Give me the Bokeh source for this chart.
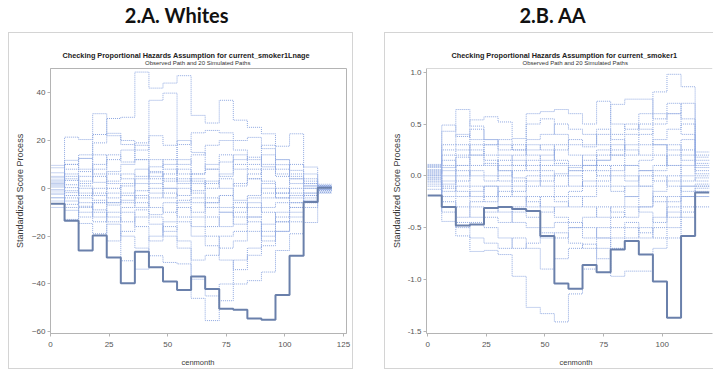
import math
from bokeh.plotting import figure
from bokeh.models import (FixedTicker, Label, Range1d, NumeralTickFormatter, Span)
from bokeh.layouts import row, column
from bokeh.embed import file_html
from bokeh.resources import INLINE

SANS = "Liberation Sans"

# ---------------- data ----------------
months = [0, 6, 12, 18, 24, 30, 36, 42, 48, 54, 60, 66, 72, 78, 84, 90, 96, 102, 108, 114, 120]
x_ticks = [0, 25, 50, 75, 100, 125]
y_ticks_a = [-60, -40, -20, 0, 20, 40]
y_ticks_b = [-1.5, -1.0, -0.5, 0.0, 0.5, 1.0]

panel_titles = ["2.A. Whites", "2.B. AA"]
plot_titles = ["Checking Proportional Hazards Assumption for current_smoker1Lnage",
               "Checking Proportional Hazards Assumption for current_smoker1"]
subtitle = "Observed Path and 20 Simulated Paths"
x_label = "cenmonth"
y_label = "Standardized Score Process"

# Whites: observed path (value on each 6-month interval)
observed_a = [-6.5, -13.6, -26, -19.7, -28.9, -39.7, -26.5, -33, -39, -42.5,
              -36.9, -42.1, -50.4, -50.8, -54.4, -54.9, -44.6, -28.2, -5.7, 0.2]
# Whites: 20 simulated paths
simulated_a = [
    [2.3, 21.4, 20.4, 31.2, 22, 18.3, 19, 36.8, 39.8, 18.3, 23.2, 24.2, 23.2, 20, 21.3, 16.6, 9.9, 7.5, 3, 0.8],
    [3.5, 10, 14, 22.5, 29.2, 29.7, 48.6, 41.9, 44, 47.1, 30.5, 27.3, 36.8, 28.5, 25.5, 22.8, 17.6, 22.8, 8.9, 1.7],
    [9.6, 11.7, 12.5, 19, 23, 20, 12, 5, 10, 20, 15, 8, 11, 14, 10, 18, 12, 6, 4, 1],
    [8.6, 10, 7, 14, 6, 4, 2, 6.5, 4, 3, 6, 8, 5, 12, 13, 9, 5, 10, 6, 0.5],
    [6.5, 3.3, 8, 2.5, 7, 10, 12, 7, 3, 8, 3, 2, 4, 1, 6, 8, 12, 5, 2, 0],
    [4.4, -1.8, 0, -3, 3, 6, 5, -2, 0, 4, -1, 3, 0, -5, -3, 0, -2, 4, 1, -0.5],
    [1, 0.3, -2, -5, -7, -5, -3, -8, -10, -5, -4, -8, -10, -15, -12, -8, -6, -3, -2, -1],
    [-1.1, -5.3, -7.5, -12, -10, -14, -9, -11, -6, -12, -16, -20, -25, -22, -18, -20, -14, -10, -5, -1.5],
    [-2.5, -9.2, -14.7, -19, -15, -20, -25, -28.2, -31, -31.6, -38, -45, -47, -40, -38.6, -35, -26, -19, -14.3, -2],
    [-3.9, -13, -8, -6, -12, -30.3, -33.8, -20, -16, -22, -46, -55.3, -40, -30, -25, -15, -10, -6, -3, -0.5],
    [-5.3, -6.7, -4, -9, -22, -18, -12, -15, -20, -25, -30, -28, -20, -18, -12, -22, -18, -8, -4, 0.3],
    [-8, -4, -10, -14, -6, -10, -16, -22, -14, -8, -12, -16, -10, -6, -8, -4, -2, 0, -6, 1],
    [0.5, 6, 3, 8, 14, 11, 16, 22, 18, 12, 6, 10, 14, 8, 4, 10, 6, 2, 0, 0.2],
    [2, 4, -3, 0, -6, -3, -8, -4, -2, -6, -10, -6, -3, 2, 4, -2, 0, -4, -2, -0.8],
    [-0.5, 8, 12.5, 6, 2, -2, 4, 9, 12, 6, 2, -4, -8, -12, -6, -10, -14, -12, -6, -1],
    [5, 1.5, 5, 10, 12, 16, 18, 12, 8, 2, -2, -6, -3, -8, -14, -18, -12, -6, 1, 0.5],
    [-2, -3, 2, 5, 0, 2, -4, 0, 6, 10, 14, 18, 20, 16, 12, 14, 8, 4, 2, 1.2],
    [3, 5, 1, -2, -4, 1, 8, 4, 0, -3, 4, 0, 6, 10, 8, 3, -4, -8, -3, -0.3],
    [-4, -1, -6, -10, -14, -8, -6, -12, -18, -14, -20, -24, -30, -34, -28, -24, -18, -14, -8, -1.8],
    [1.5, -8, -12, -6, -2, -6, -1, 2, -4, 0, -6, -12, -16, -10, -4, 2, -4, -2, 0, 0.6],
]

# AA: observed path
observed_b = [-0.19, -0.30, -0.48, -0.47, -0.31, -0.30, -0.32, -0.34, -0.58, -1.04,
              -1.09, -0.86, -0.93, -0.71, -0.63, -0.76, -1.02, -1.37, -0.58, -0.16]
# AA: 20 simulated paths
simulated_b = [
    [0.11, 0.49, 0.38, 0.54, 0.57, 0.52, 0.36, 0.6, 0.62, 0.64, 0.6, 0.5, 0.72, 0.5, 0.45, 0.6, 0.81, 0.98, 0.86, 0.23],
    [0.08, 0.43, 0.64, 0.48, 0.35, 0.3, 0.25, 0.5, 0.55, 0.4, 0.3, 0.28, 0.4, 0.69, 0.74, 0.74, 0.55, 0.6, 0.7, 0.15],
    [0.05, 0.2, 0.2, 0.3, 0.3, 0.2, 0.1, 0.25, 0.3, 0.1, 0.05, 0.1, 0.2, 0.3, 0.2, 0.3, 0.35, 0.45, 0.5, 0.1],
    [0.03, 0.08, 0.18, 0.0, -0.05, 0.1, 0.15, 0.05, 0.1, 0.12, 0.0, -0.1, -0.05, 0.05, 0.1, 0.15, 0.2, 0.1, 0.2, 0.05],
    [0.0, -0.05, 0.0, 0.1, 0.12, 0.05, -0.02, -0.1, -0.05, 0.02, 0.08, 0.15, 0.1, 0.0, -0.05, 0.05, 0.1, 0.3, 0.25, 0.08],
    [-0.035, -0.12, -0.1, -0.2, -0.25, -0.15, -0.2, -0.3, -0.2, -0.25, -0.3, -0.2, -0.1, -0.15, -0.1, 0.0, -0.05, -0.1, 0.0, -0.05],
    [-0.08, -0.2, -0.3, -0.4, -0.35, -0.3, -0.45, -0.5, -0.55, -0.6, -0.5, -0.4, -0.3, -0.35, -0.4, -0.3, -0.2, -0.25, -0.1, -0.1],
    [-0.13, -0.44, -0.58, -0.73, -0.72, -0.76, -0.97, -1.27, -1.33, -1.41, -1.14, -0.9, -0.7, -0.97, -0.92, -0.92, -0.7, -0.6, -0.4, -0.3],
    [0.0, -0.3, -0.45, -0.6, -0.65, -0.7, -0.6, -0.7, -0.9, -0.8, -0.7, -0.66, -0.8, -0.6, -0.5, -0.55, -0.4, -0.3, -0.2, -0.15],
    [0.1, 0.3, 0.4, 0.35, 0.2, 0.05, -0.05, 0.0, -0.1, -0.2, -0.15, -0.05, 0.05, 0.1, 0.0, -0.1, 0.05, 0.2, 0.35, 0.2],
    [-0.02, 0.1, 0.25, 0.45, 0.35, 0.25, 0.3, 0.2, 0.15, 0.25, 0.35, 0.3, 0.45, 0.35, 0.25, 0.2, 0.3, 0.25, 0.15, 0.0],
    [0.06, -0.1, -0.2, -0.15, -0.1, -0.35, -0.3, -0.2, -0.3, -0.4, -0.45, -0.5, -0.6, -0.5, -0.45, -0.6, -0.5, -0.35, -0.2, -0.12],
    [0.02, 0.15, 0.05, -0.1, -0.2, -0.1, 0.05, 0.1, 0.2, 0.3, 0.2, 0.1, 0.0, -0.1, -0.2, -0.3, -0.15, 0.0, 0.1, 0.02],
    [-0.05, -0.25, -0.4, -0.25, -0.1, -0.2, -0.1, -0.25, -0.35, -0.3, -0.2, -0.3, -0.4, -0.3, -0.2, -0.1, -0.25, -0.4, -0.3, -0.2],
    [0.04, 0.0, 0.1, 0.2, 0.3, 0.35, 0.25, 0.35, 0.4, 0.5, 0.45, 0.4, 0.3, 0.2, 0.3, 0.4, 0.5, 0.6, 0.4, 0.12],
    [-0.1, -0.35, -0.5, -0.45, -0.5, -0.6, -0.7, -0.65, -0.5, -0.45, -0.5, -0.6, -0.5, -0.4, -0.3, -0.35, -0.45, -0.2, -0.1, -0.08],
    [0.09, 0.25, 0.3, 0.2, 0.1, 0.15, 0.2, 0.3, 0.25, 0.15, 0.1, 0.2, 0.15, 0.25, 0.4, 0.5, 0.6, 0.7, 0.55, 0.18],
    [-0.06, -0.15, -0.05, 0.05, 0.0, -0.05, -0.15, -0.05, 0.05, 0.0, -0.1, 0.05, 0.15, 0.2, 0.1, 0.05, 0.0, -0.05, -0.15, -0.1],
    [0.01, 0.05, -0.15, -0.3, -0.4, -0.45, -0.35, -0.4, -0.6, -0.55, -0.65, -0.7, -0.6, -0.7, -0.6, -0.5, -0.6, -0.5, -0.35, -0.2],
    [-0.02, -0.08, 0.1, 0.25, 0.15, 0.0, 0.1, 0.15, 0.0, -0.1, 0.05, 0.1, 0.25, 0.4, 0.5, 0.45, 0.3, 0.1, -0.05, -0.02],
]

# ---------------- styling ----------------
SIM_COLOR = "#8fa8e0"
OBS_COLOR = "#6a80ab"
AXIS_COLOR = "#b4b4b4"
TICK_TEXT = "#555555"
BOX = "1px solid #d4d4d4"

HEAD_H = 32      # main heading strip (page top to box top)
CHEAD_H = 35     # chart title + subtitle strip (inside box)
PLOT_H = 284     # plot figure (frame + x tick labels)
XLAB_H = 18      # strip holding the x axis title
YLAB_W = 20      # strip holding the y axis title


def strip(width, height, styles=None):
    """A blank figure used only to hold text, with pixel-like coordinates."""
    f = figure(width=width, height=height, output_backend="svg", toolbar_location=None,
               x_range=Range1d(0, width), y_range=Range1d(height, 0),
               x_axis_type=None, y_axis_type=None,
               min_border_left=0, min_border_right=0, min_border_top=0, min_border_bottom=0,
               outline_line_color=None, background_fill_color="white",
               border_fill_color="white", styles=styles or {})
    f.grid.visible = False
    return f


def text(f, x, y, s, size, bold=False, font=SANS, color="#222222", angle=0.0):
    f.add_layout(Label(x=x, y=y, text=s, text_align="left", text_baseline="middle",
                       text_font=font, text_font_style="bold" if bold else "normal",
                       text_font_size=size, text_color=color, angle=angle))


def make_plot(width, border_left, border_right, x_start, x_end, y_start, y_end,
              y_ticks, y_format, sims, obs, right_border, styles):
    p = figure(width=width, height=PLOT_H, output_backend="svg", toolbar_location=None,
               x_range=Range1d(x_start, x_end), y_range=Range1d(y_start, y_end),
               min_border_left=border_left, min_border_right=border_right,
               min_border_top=1, min_border_bottom=18,
               background_fill_color="white", border_fill_color="white",
               styles=styles)
    p.grid.visible = False
    p.outline_line_color = AXIS_COLOR if right_border else None

    for s in sims:
        p.step(months, s + [s[-1]], mode="after", line_color=SIM_COLOR,
               line_width=1, line_dash="1 1", line_alpha=1.0)
    p.step(months, obs + [obs[-1]], mode="after", line_color=OBS_COLOR, line_width=2)

    if not right_border:
        p.add_layout(Span(location=y_end, dimension="width", line_color=AXIS_COLOR,
                          line_width=1))

    for ax in (p.xaxis[0], p.yaxis[0]):
        ax.axis_line_color = AXIS_COLOR
        ax.major_tick_line_color = AXIS_COLOR
        ax.major_tick_out = 3
        ax.major_tick_in = 0
        ax.minor_tick_line_color = None
        ax.major_label_text_color = TICK_TEXT
        ax.major_label_text_font = SANS
        ax.major_label_text_font_size = "8px"

    p.xaxis.ticker = FixedTicker(ticks=x_ticks)
    p.xaxis.major_label_standoff = 5
    p.yaxis.ticker = FixedTicker(ticks=y_ticks)
    p.yaxis.major_label_standoff = 2
    if y_format:
        p.yaxis.formatter = NumeralTickFormatter(format=y_format)
    return p


def make_panel(width, title, title_x, plot_title, ptitle_x, sub_x, border_left, border_right,
               x_range_, y_range_, y_ticks, y_format, sims, obs, closed_right, xlab_x, ylab_x):
    head = strip(width, HEAD_H)
    text(head, title_x, 14.6, title, "20px", bold=True, font="Lato", color="#111111")

    st = {"border-top": BOX, "border-left": BOX, "box-sizing": "border-box"}
    if closed_right:
        st["border-right"] = BOX
    chead = strip(width, CHEAD_H, st)
    text(chead, ptitle_x, 22.3, plot_title, "7.3px", bold=True, color="#222222")
    text(chead, sub_x, 29.9, subtitle, "6px", color="#333333")

    ylab = strip(YLAB_W, PLOT_H, {"border-left": BOX, "box-sizing": "border-box"})
    text(ylab, ylab_x, 192.3, y_label, "9px", color="#3a3a3a", angle=math.pi / 2)

    pst = {"box-sizing": "border-box"}
    if closed_right:
        pst["border-right"] = BOX
    plot = make_plot(width - YLAB_W, border_left, border_right, x_range_[0], x_range_[1],
                     y_range_[0], y_range_[1], y_ticks, y_format, sims, obs, closed_right, pst)

    xst = {"border-left": BOX, "border-bottom": BOX, "box-sizing": "border-box"}
    if closed_right:
        xst["border-right"] = BOX
    xlab = strip(width, XLAB_H, xst)
    text(xlab, xlab_x, 10.7, x_label, "7.5px", color="#3a3a3a")

    return column(head, chead, row(ylab, plot, spacing=0), xlab, spacing=0)


panel_a = make_panel(345, panel_titles[0], 116.3, plot_titles[0], 53, 135.5, 18, 7,
                     (0, 126.3), (-60.7, 50.1), y_ticks_a, None,
                     simulated_a, observed_a, True, 172, 10.3)
panel_b = make_panel(329, panel_titles[1], 135, plot_titles[1], 66, 137, 19, 1,
                     (-0.5, 121.4), (-1.522, 1.036), y_ticks_b, "0.0",
                     simulated_b, observed_b, False, 174, 11.3)

layout = row(panel_a, panel_b, spacing=31)
layout.margin = (0, 8, 8, 8)
open("out.html", "w").write(file_html(layout, INLINE))
